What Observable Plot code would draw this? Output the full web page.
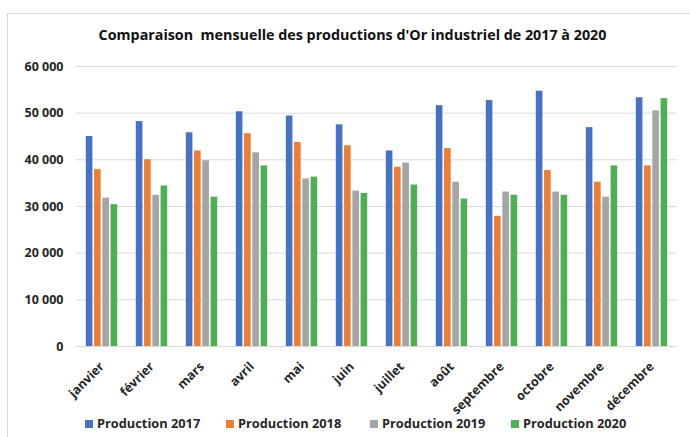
<!DOCTYPE html>
<html><head><meta charset="utf-8">
<script src="https://cdn.jsdelivr.net/npm/d3@7"></script>
<script src="https://cdn.jsdelivr.net/npm/@observablehq/plot@0.6"></script>
<style>
body{margin:0;background:#fff;font-family:"Open Sans",Lato,sans-serif;width:690px;height:437px;overflow:hidden;position:relative}
#frame{position:absolute;left:7px;top:13px;width:720px;height:460px;border:1px solid #d9d9d9}
#title{position:absolute;top:25px;left:0;width:705px;text-align:center;font-weight:bold;font-size:14.3px;color:#111;white-space:nowrap}
#chart{position:absolute;top:50px;left:0}
.lg{position:absolute;top:415px;font-size:12.8px;font-weight:bold;color:#262626;white-space:nowrap;line-height:17px}
.lg i{display:inline-block;width:8px;height:8px;margin-right:4px;vertical-align:0px}
</style></head>
<body>
<div id="frame"></div>
<div id="title">Comparaison&nbsp; mensuelle des productions d'Or industriel de 2017 à 2020</div>
<div id="chart"></div>
<div id="legend"></div>
<script>
const months = ["janvier","février","mars","avril","mai","juin","juillet","août","septembre","octobre","novembre","décembre"];
const seriesNames = ["Production 2017","Production 2018","Production 2019","Production 2020"];
const colors = ["#4472C4","#ED7D31","#A5A5A5","#4CB050"];
const p2017 = [45000,48200,45800,50300,49400,47500,41900,51600,52700,54700,46900,53300];
const p2018 = [37900,40000,41900,45600,43700,43000,38400,42400,27900,37700,35200,38700];
const p2019 = [31800,32400,39800,41500,35900,33300,39300,35200,33100,33100,32000,50500];
const p2020 = [30400,34400,32000,38700,36300,32800,34600,31600,32400,32400,38700,53100];
const yTicks = [0,10000,20000,30000,40000,50000,60000];

const allSeries = [p2017,p2018,p2019,p2020];
const W = 690, mL = 76, mR = 13;
const padIn = 0.34;
const bw = (W - mL - mR) / months.length * (1 - padIn);
const slot = bw / 4;
const gap = 0.8;
const fmt = d3.formatLocale({thousands:"\u00a0", grouping:[3], decimal:","}).format(",");

const marks = [
  Plot.ruleY(yTicks, {stroke:"#d9d9d9", strokeWidth:1}),
  ...allSeries.map((arr, j) => Plot.barY(arr.map((v,i)=>({month:months[i], value:v})), {
    x:"month", y:"value", fill:colors[j],
    insetLeft: j*slot + gap, insetRight: (3-j)*slot + gap
  })),
  Plot.axisY({ticks:yTicks, tickSize:0, tickPadding:13, tickFormat:fmt, label:null, fontSize:12.5, fontWeight:"bold"}),
  Plot.axisX({tickRotate:-45, tickSize:0, tickPadding:18, label:null, fontSize:12.5, fontWeight:"bold"})
];

const chart = Plot.plot({
  width: W, height: 360,
  marginTop: 16, marginBottom: 64, marginLeft: mL, marginRight: mR,
  style:{fontFamily:"'Open Sans', Lato, sans-serif", color:"#262626", background:"transparent", overflow:"visible"},
  x:{domain:months, paddingInner:padIn, paddingOuter:padIn/2},
  y:{domain:[0,60000]},
  marks
});
document.getElementById("chart").appendChild(chart);

const legendX = [85,226,370,511];
const lg = document.getElementById("legend");
seriesNames.forEach((s,j)=>{
  const d = document.createElement("div");
  d.className = "lg";
  d.style.left = legendX[j] + "px";
  d.innerHTML = `<i style="background:${colors[j]}"></i>${s}`;
  lg.appendChild(d);
});
</script>
</body></html>
